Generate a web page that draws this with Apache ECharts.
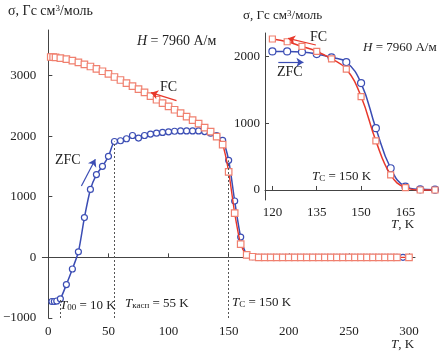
<!DOCTYPE html>
<html><head><meta charset="utf-8">
<script src="https://cdn.jsdelivr.net/npm/echarts@6/dist/echarts.min.js"></script>
<style>html,body{margin:0;padding:0;background:#fff}#c{width:441px;height:355px}</style>
</head><body><div id="c"></div>
<script>
// ---- data (main chart) ----
const zfcT = [3,5,7,10,15,20,25,30,35,40,45,50,55,60,65,70,75,80,85,90,95,100,105,110,115,120,125,130,135,140,145,150,155,160,165,170,175,180,185,190,195,200,205,210,215,220,225,230,235,240,245,250,255,260,265,270,275,280,285,290,295];
const zfcV = [-728,-728,-720,-684,-449,-192,92,656,1120,1366,1502,1666,1911,1923,1956,2010,1967,2010,2033,2049,2060,2070,2080,2085,2085,2085,2085,2075,2049,2010,1930,1600,930,335,45,10,0,0,0,0,0,0,0,0,0,0,0,0,0,0,0,0,0,0,0,0,0,0,0,0,0];
const fcT = [2,4,6,10,15,20,25,30,35,40,45,50,55,60,65,70,75,80,85,90,95,100,105,110,115,120,125,130,135,140,145,150,155,160,165,170,175,180,185,190,195,200,205,210,215,220,225,230,235,240,245,250,255,260,265,270,275,280,285,290,300];
const fcV = [3305,3302,3298,3285,3268,3245,3215,3182,3148,3110,3070,3025,2975,2925,2875,2825,2775,2720,2660,2600,2545,2490,2435,2380,2320,2265,2205,2140,2075,1990,1860,1410,730,220,40,10,0,0,0,0,0,0,0,0,0,0,0,0,0,0,0,0,0,0,0,0,0,0,0,0,0];
const mainXTicks = [0,50,100,150,200,250,300];
const mainYTicks = [-1000,0,1000,2000,3000];
// ---- data (inset) ----
const insetT = [120,125,130,135,140,145,150,155,160,165,170,175];
const insetZfc = [2074,2074,2065,2035,1984,1915,1600,925,325,50,10,5];
const insetFc = [2260,2219,2149,2074,1964,1810,1399,735,225,35,0,0];
const insetXTicks = [120,135,150,165];
const insetYTicks = [0,1000,2000];
// ---- annotation values ----
const T00 = 10, Tkasp = 55, TC = 150;

const BLUE = '#3b4db4', RED = '#e8382b', SQ = '#f0806f', AX = '#444', TXT = '#222';
const FONT = '"Liberation Serif", "DejaVu Serif", serif';

const pairs = (xs, ys) => xs.map((x, i) => [x, ys[i]]);
const fmtNum = v => String(v).replace('-', '\u2212');

const axisCommon = {
  axisLine: {lineStyle: {color: AX, width: 1}},
  splitLine: {show: false},
  axisLabel: {color: TXT, fontFamily: FONT, fontSize: 13},
};

const chart = echarts.init(document.getElementById('c'), null, {renderer: 'canvas'});

const rich = {
  i: {fontFamily: FONT, fontSize: 13, fontStyle: 'italic', color: TXT},
  n: {fontFamily: FONT, fontSize: 13, color: TXT},
  t: {fontFamily: FONT, fontSize: 14, color: TXT},
  ti: {fontFamily: FONT, fontSize: 14, fontStyle: 'italic', color: TXT},
  sup: {fontFamily: FONT, fontSize: 9, color: TXT, verticalAlign: 'top', lineHeight: 10},
  s: {fontFamily: FONT, fontSize: 9, color: TXT, verticalAlign: 'bottom', lineHeight: 8},
};

function txt(left, top, text) {
  return {type: 'text', left: left, top: top, z: 100,
    style: {text: text, rich: rich, fill: TXT, font: '13px ' + FONT}};
}

const zfcLow = zfcV[zfcT.indexOf(T00)];
const zfcKasp = zfcV[zfcT.indexOf(Tkasp)];
const zfcTC = zfcV[zfcT.indexOf(TC)];

chart.setOption({
  animation: false,
  backgroundColor: '#fff',
  grid: [
    {left: 40, right: 26, top: 30, bottom: 37},
    {left: 265, width: 170, top: 33, bottom: 155}
  ],
  xAxis: [
    Object.assign({}, axisCommon, {type: 'value', gridIndex: 0, min: -5, max: 305,
      axisTick: {inside: true, length: 4, customValues: mainXTicks, lineStyle: {color: AX}},
      axisLabel: Object.assign({}, axisCommon.axisLabel, {customValues: mainXTicks, margin: 7})}),
    Object.assign({}, axisCommon, {type: 'value', gridIndex: 1, min: 117.5, max: 175,
      axisTick: {inside: true, length: 4, customValues: insetXTicks, lineStyle: {color: AX}},
      axisLabel: Object.assign({}, axisCommon.axisLabel, {customValues: insetXTicks, margin: 6})})
  ],
  yAxis: [
    Object.assign({}, axisCommon, {type: 'value', gridIndex: 0, min: -1000, max: 3750,
      axisTick: {inside: true, length: 4, customValues: mainYTicks, lineStyle: {color: AX}},
      axisLabel: Object.assign({}, axisCommon.axisLabel, {customValues: mainYTicks, margin: 6, formatter: fmtNum})}),
    Object.assign({}, axisCommon, {type: 'value', gridIndex: 1, min: -150, max: 2350,
      axisTick: {inside: true, length: 4, customValues: insetYTicks, lineStyle: {color: AX}},
      axisLabel: Object.assign({}, axisCommon.axisLabel, {customValues: insetYTicks, margin: 5, formatter: fmtNum})})
  ],
  series: [
    {type: 'line', name: 'ZFC', xAxisIndex: 0, yAxisIndex: 0, data: pairs(zfcT, zfcV),
     smooth: 0.25, symbol: 'circle', symbolSize: 6, z: 2,
     lineStyle: {color: BLUE, width: 1.5}, itemStyle: {color: '#fff', borderColor: BLUE, borderWidth: 1.2},
     markLine: {silent: true, symbol: ['none', 'none'], label: {show: false},
       lineStyle: {color: '#555', type: [2, 2], width: 1},
       data: [
         [{coord: [T00, -1000]}, {coord: [T00, zfcLow]}],
         [{coord: [Tkasp, -1000]}, {coord: [Tkasp, zfcKasp]}],
         [{coord: [TC, -1000]}, {coord: [TC, zfcTC]}]
       ]}},
    {type: 'line', name: 'FC', xAxisIndex: 0, yAxisIndex: 0, data: pairs(fcT, fcV),
     smooth: 0.25, symbol: 'rect', symbolSize: 6.5, z: 3,
     lineStyle: {color: RED, width: 1.4}, itemStyle: {color: '#fff', borderColor: SQ, borderWidth: 1.2}},
    // arrows (main)
    {type: 'line', xAxisIndex: 0, yAxisIndex: 0, data: [], markLine: {silent: true, symbol: ['none', 'arrow'], symbolSize: 7,
       label: {show: false}, lineStyle: {color: RED, width: 1.2, type: 'solid'},
       data: [[{coord: [106.6, 2585]}, {coord: [85.4, 2717]}]]}},
    {type: 'line', xAxisIndex: 0, yAxisIndex: 0, data: [], markLine: {silent: true, symbol: ['none', 'arrow'], symbolSize: 7,
       label: {show: false}, lineStyle: {color: BLUE, width: 1.2, type: 'solid'},
       data: [[{coord: [27.5, 1178]}, {coord: [39.1, 1618]}]]}},
    // inset
    {type: 'line', name: 'ZFC inset', xAxisIndex: 1, yAxisIndex: 1, data: pairs(insetT, insetZfc),
     smooth: 0.45, symbol: 'circle', symbolSize: 7, z: 2,
     lineStyle: {color: BLUE, width: 1.5}, itemStyle: {color: '#fff', borderColor: BLUE, borderWidth: 1.2}},
    {type: 'line', name: 'FC inset', xAxisIndex: 1, yAxisIndex: 1, data: pairs(insetT, insetFc),
     smooth: 0.45, symbol: 'rect', symbolSize: 6, z: 3,
     lineStyle: {color: RED, width: 1.5}, itemStyle: {color: '#fff', borderColor: SQ, borderWidth: 1.2}},
    {type: 'line', xAxisIndex: 1, yAxisIndex: 1, data: [], markLine: {silent: true, symbol: ['none', 'arrow'], symbolSize: 7,
       label: {show: false}, lineStyle: {color: RED, width: 1.2, type: 'solid'},
       data: [[{coord: [134.7, 2170]}, {coord: [125.3, 2270]}]]}},
    {type: 'line', xAxisIndex: 1, yAxisIndex: 1, data: [], markLine: {silent: true, symbol: ['none', 'arrow'], symbolSize: 7,
       label: {show: false}, lineStyle: {color: BLUE, width: 1.2, type: 'solid'},
       data: [[{coord: [122, 1911]}, {coord: [130.5, 1911]}]]}}
  ],
  graphic: {
    z: 200,
    elements: [
      txt(8, 4, '{t|σ, Гс см}{sup|3}{t|/моль}'),
      txt(137, 34, '{ti|H}{t| = 7960 А/м}'),
      txt(160, 80, '{t|FC}'),
      txt(55, 153, '{t|ZFC}'),
      txt(60, 299, '{i|T}{s|00}{n| = 10 K}'),
      txt(125, 297, '{i|T}{s|касп}{n| = 55 K}'),
      txt(232, 296, '{i|T}{s|C}{n| = 150 K}'),
      txt(391, 338, '{i|T}{n|, K}'),
      // inset texts
      txt(243, 9, '{n|σ, Гс см}{sup|3}{n|/моль}'),
      txt(363, 41, '{i|H}{n| = 7960 А/м}'),
      txt(310, 30, '{t|FC}'),
      txt(277, 65, '{t|ZFC}'),
      txt(312, 170, '{i|T}{s|C}{n| = 150 K}'),
      txt(391, 218, '{i|T}{n|, K}')
    ]
  }
});
</script></body></html>
